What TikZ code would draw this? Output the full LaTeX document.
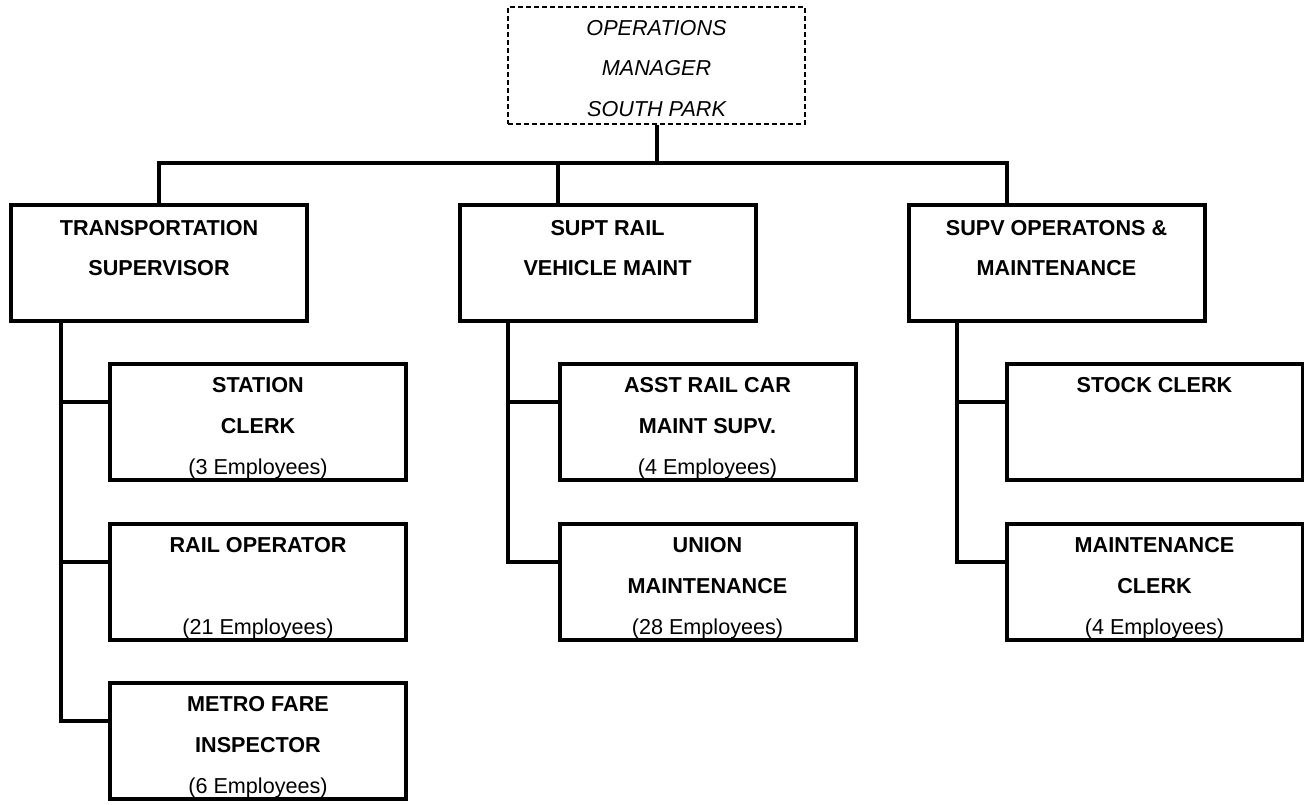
\documentclass[tikz,border=0pt]{standalone}
\usepackage{fontspec}
\setmainfont{Liberation Sans}
\usetikzlibrary{calc}

% #1 box height, #2 first baseline below the top, #3 line pitch, #4 lines
\newcommand\orgtext[4]{\parbox[c][#1][t]{284pt}{\centering
  \fontsize{21.6}{#3}\selectfont\rule{0pt}{#2}#4\par}}

\tikzset{
  x=1pt, y=-1pt,
  unitbox/.style={draw, line width=4pt, minimum width=296pt,
    minimum height=116pt, inner sep=0pt},
  headbox/.style={draw, line width=2pt, dash pattern=on 5pt off 3pt,
    minimum width=297pt, minimum height=117pt, inner sep=0pt},
  link/.style={line width=4pt}
}

\begin{document}
\begin{tikzpicture}
\fill[white] (0,0) rectangle (1304,804);
\useasboundingbox (0,0) rectangle (1304,804);

% head of the section
\node[headbox] (mgr) at (656.5,65.5)
  {\orgtext{117pt}{28pt}{40.5pt}{\itshape OPERATIONS\\MANAGER\\SOUTH PARK}};

% second level
\node[unitbox] (ts) at (159,263)
  {\orgtext{116pt}{30pt}{40pt}{\bfseries TRANSPORTATION\\SUPERVISOR}};
\node[unitbox] (rv) at (607.5,263)
  {\orgtext{116pt}{30pt}{40pt}{\bfseries SUPT RAIL\\VEHICLE MAINT}};
\node[unitbox] (om) at (1056.5,263)
  {\orgtext{116pt}{30pt}{40pt}{\bfseries SUPV OPERATONS \&\\MAINTENANCE}};

% third level, transportation
\node[unitbox] (sc) at (258,422)
  {\orgtext{116pt}{28pt}{41pt}{\textbf{STATION}\\\textbf{CLERK}\\(3 Employees)}};
\node[unitbox] (ro) at (258,582)
  {\orgtext{116pt}{28pt}{41pt}{\textbf{RAIL OPERATOR}\\\mbox{}\\(21 Employees)}};
\node[unitbox] (mf) at (258,741)
  {\orgtext{116pt}{28pt}{41pt}{\textbf{METRO FARE}\\\textbf{INSPECTOR}\\(6 Employees)}};

% third level, vehicle maintenance
\node[unitbox] (ac) at (707.5,422)
  {\orgtext{116pt}{28pt}{41pt}{\textbf{ASST RAIL CAR}\\\textbf{MAINT SUPV.}\\(4 Employees)}};
\node[unitbox] (um) at (707.5,582)
  {\orgtext{116pt}{28pt}{41pt}{\textbf{UNION}\\\textbf{MAINTENANCE}\\(28 Employees)}};

% third level, operations & maintenance
\node[unitbox] (sk) at (1154.5,422)
  {\orgtext{116pt}{28pt}{41pt}{\textbf{STOCK CLERK}}};
\node[unitbox] (mc) at (1154.5,582)
  {\orgtext{116pt}{28pt}{41pt}{\textbf{MAINTENANCE}\\\textbf{CLERK}\\(4 Employees)}};

% bus under the head box
\coordinate (jm) at (558,163);
\coordinate (jr) at (1007,163);
\draw[link] (mgr.south) -- (mgr.south |- jm);
\draw[link] (ts.north) |- (jr) -- (jr |- om.north);
\draw[link] (jm) -- (jm |- rv.north);

% trunks of the lower levels
\coordinate (tl) at (61,0);
\coordinate (tm) at (508,0);
\coordinate (tr) at (957,0);

\coordinate (sc1) at ([yshift=-40pt]sc.north west);
\coordinate (ro1) at ([yshift=-40pt]ro.north west);
\coordinate (mf1) at ([yshift=-40pt]mf.north west);
\draw[link] (tl |- ts.south) |- (mf1);
\draw[link] (tl |- sc1) -- (sc1);
\draw[link] (tl |- ro1) -- (ro1);

\coordinate (ac1) at ([yshift=-40pt]ac.north west);
\coordinate (um1) at ([yshift=-40pt]um.north west);
\draw[link] (tm |- rv.south) |- (um1);
\draw[link] (tm |- ac1) -- (ac1);

\coordinate (sk1) at ([yshift=-40pt]sk.north west);
\coordinate (mc1) at ([yshift=-40pt]mc.north west);
\draw[link] (tr |- om.south) |- (mc1);
\draw[link] (tr |- sk1) -- (sk1);
\end{tikzpicture}
\end{document}
